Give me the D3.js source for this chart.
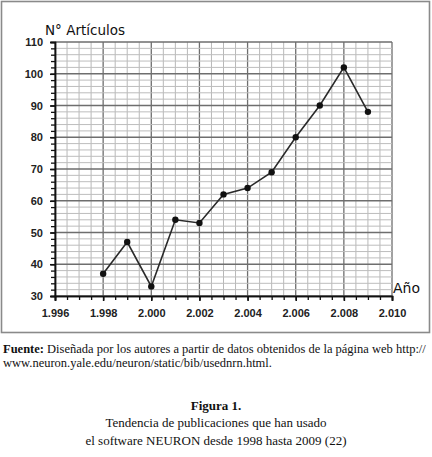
<!DOCTYPE html>
<html>
<head>
<meta charset="utf-8">
<script src="https://cdn.jsdelivr.net/npm/d3@7"></script>
<style>
  body { margin: 0; background: #fff; }
  svg { display: block; }
</style>
</head>
<body>
<svg width="432" height="457"></svg>
<script>
// data
let years = [1998, 1999, 2000, 2001, 2002, 2003, 2004, 2005, 2006, 2007, 2008, 2009];
let articles = [37, 47, 33, 54, 53, 62, 64, 69, 80, 90, 102, 88];
let xTicks = [1996, 1998, 2000, 2002, 2004, 2006, 2008, 2010];
let yTicks = [30, 40, 50, 60, 70, 80, 90, 100, 110];
let xTitle = "Año", yTitle = "N° Artículos";

let svg = d3.select("svg"),
    margin = {top: 42, right: 40, bottom: 161, left: 55},
    width = 432 - margin.left - margin.right,
    height = 457 - margin.top - margin.bottom;

let locale = d3.formatLocale({decimal: ",", thousands: ".", grouping: [3], currency: ["", ""]}),
    fmt = locale.format(",.0f");

let x = d3.scaleLinear().domain([1996, 2010]).range([0, width]);
let y = d3.scaleLinear().domain([30, 110]).range([height, 0]);

// frame round the chart
svg.append("rect")
    .attr("x", 1.5).attr("y", 1.5)
    .attr("width", 428).attr("height", 331)
    .attr("fill", "none")
    .attr("stroke", "#8a8a8a")
    .attr("stroke-width", 1.6);

let g = svg.append("g").attr("transform", "translate(" + margin.left + "," + margin.top + ")");

// grid
let xMinor = d3.range(1996, 2010.01, 0.5),
    yMinor = d3.range(30, 110.01, 2);

g.append("g").selectAll("line").data(xMinor).enter().append("line")
    .attr("x1", d => x(d)).attr("x2", d => x(d))
    .attr("y1", 0).attr("y2", height)
    .attr("stroke", d => xTicks.includes(d) ? "#6e6e6e" : "#b8b8b8")
    .attr("stroke-width", d => xTicks.includes(d) ? 1.3 : 1);

g.append("g").selectAll("line").data(yMinor).enter().append("line")
    .attr("x1", 0).attr("x2", width)
    .attr("y1", d => y(d)).attr("y2", d => y(d))
    .attr("stroke", d => yTicks.includes(d) ? "#6e6e6e" : "#bdbdbd")
    .attr("stroke-width", d => yTicks.includes(d) ? 1.3 : 1);

// minor ticks
g.append("g")
    .attr("transform", "translate(0," + height + ")")
    .call(d3.axisBottom(x).tickValues(xMinor).tickSize(4).tickFormat(""))
    .call(a => a.selectAll("line,path").attr("stroke", "#111").attr("stroke-width", 1.3));

g.append("g")
    .call(d3.axisLeft(y).tickValues(yMinor).tickSize(4).tickFormat(""))
    .call(a => a.selectAll("line,path").attr("stroke", "#111").attr("stroke-width", 1.3));

// main axes
let xAxis = g.append("g")
    .attr("transform", "translate(0," + height + ")")
    .call(d3.axisBottom(x).tickValues(xTicks).tickSize(5).tickPadding(8).tickFormat(fmt));

let yAxis = g.append("g")
    .call(d3.axisLeft(y).tickValues(yTicks).tickSize(5).tickPadding(7));

[xAxis, yAxis].forEach(a => {
  a.selectAll("line,path").attr("stroke", "#111").attr("stroke-width", 1.6);
  a.selectAll("text")
      .attr("fill", "#222")
      .style("font-family", "'Liberation Sans', Arial, sans-serif")
      .style("font-weight", "bold")
      .style("font-size", "11px");
});

// axis titles
g.append("text")
    .attr("x", -10).attr("y", -7)
    .style("font-family", "'DejaVu Sans', sans-serif")
    .style("font-size", "13.5px")
    .attr("fill", "#111")
    .text(yTitle);

g.append("text")
    .attr("x", width + 1).attr("y", height - 3)
    .style("font-family", "'DejaVu Sans', sans-serif")
    .style("font-size", "14px")
    .attr("fill", "#111")
    .text(xTitle);

// series
let line = d3.line()
    .x((d, i) => x(years[i]))
    .y(d => y(d));

g.append("path")
    .datum(articles)
    .attr("d", line)
    .attr("fill", "none")
    .attr("stroke", "#2a2a2a")
    .attr("stroke-width", 1.6);

g.append("g").selectAll("circle").data(articles).enter().append("circle")
    .attr("cx", (d, i) => x(years[i]))
    .attr("cy", d => y(d))
    .attr("r", 3.2)
    .attr("fill", "#111");

// caption below the figure
let serif = "'Liberation Serif', 'DejaVu Serif', serif";

let src = svg.append("text")
    .attr("x", 3).attr("y", 353)
    .style("font-family", serif)
    .style("font-size", "12.5px")
    .attr("fill", "#111");
src.append("tspan").style("font-weight", "bold").text("Fuente:");
src.append("tspan").text(" Diseñada por los autores a partir de datos obtenidos de la página web http://");

svg.append("text")
    .attr("x", 3).attr("y", 367)
    .style("font-family", serif)
    .style("font-size", "12.5px")
    .attr("fill", "#111")
    .text("www.neuron.yale.edu/neuron/static/bib/usednrn.html.");

let caption = [
  {t: "Figura 1.", y: 410, bold: true},
  {t: "Tendencia de publicaciones que han usado", y: 427, bold: false},
  {t: "el software NEURON desde 1998 hasta 2009 (22)", y: 445, bold: false}
];

svg.append("g").selectAll("text").data(caption).enter().append("text")
    .attr("x", 216).attr("y", d => d.y)
    .attr("text-anchor", "middle")
    .style("font-family", serif)
    .style("font-size", "13px")
    .style("font-weight", d => d.bold ? "bold" : "normal")
    .attr("fill", "#111")
    .text(d => d.t);
</script>
</body>
</html>
